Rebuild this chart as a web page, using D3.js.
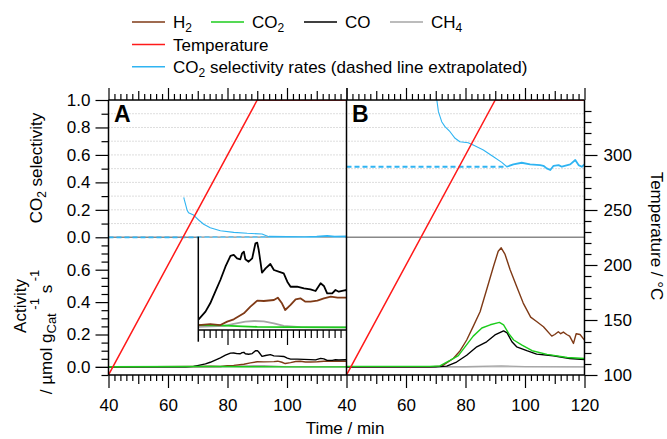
<!DOCTYPE html>
<html>
<head>
<meta charset="utf-8">
<script src="https://cdn.jsdelivr.net/npm/d3@7"></script>
<style>
  body { margin: 0; background: #fff; }
  text { font-family: "Liberation Sans", Arial, sans-serif; }
</style>
</head>
<body>
<div id="chart"></div>
<script>
// ---- data (time in min, activity in µmol g^-1 s^-1) ----
const timeTicks = [40, 60, 80, 100, 120]
const selTicks = [0, 0.2, 0.4, 0.6, 0.8, 1.0]
const actTicks = [0, 0.2, 0.4, 0.6]
const tempTicks = [100, 150, 200, 250, 300]

const tempRamp = [[40, 100], [90, 350], [120, 350]]

// panel A
const h2A = [[40,0],[70.3,0.0027],[74.2,0.0039],[77.6,0.0027],[79.9,0.0067],[82.1,0.0095],[85.5,0.0167],[87.7,0.0246],[90,0.0317],[92.2,0.0313],[95.6,0.0325],[96.9,0.0353],[98.3,0.0286],[99.4,0.0206],[101.2,0.0266],[102.9,0.0333],[104.5,0.0345],[106.2,0.0305],[107.9,0.0305],[110.2,0.0317],[112.4,0.0345],[114.7,0.0365],[117,0.0353],[119.7,0.0353],[120,0.0353]]
const co2A = [[40,0.001],[70.3,0.0027],[77.6,0.0022],[85,0.0012],[90,0.0005],[100,0.0002],[120,0.0]]
const coA = [[40,0],[66,0],[68.6,0.003],[70.3,0.0095],[72.6,0.0186],[74.2,0.0286],[75.9,0.0424],[77.6,0.0563],[79.3,0.0721],[81,0.0849],[82.1,0.0861],[83.2,0.0821],[84.3,0.081],[84.9,0.0881],[85.5,0.09],[86,0.081],[87.1,0.0781],[88.3,0.0821],[89.4,0.1],[90,0.1007],[90.5,0.092],[91.6,0.065],[92.8,0.0702],[94.4,0.0754],[95.6,0.0682],[97.2,0.0662],[98.9,0.0643],[100.1,0.0543],[101.2,0.0483],[103.4,0.0483],[105.7,0.0464],[107.9,0.0452],[109.6,0.0432],[111.3,0.0524],[112.4,0.0492],[113.5,0.0405],[115.2,0.0405],[116.3,0.0444],[117.4,0.0424],[119.7,0.0444],[120,0.044]]
const ch4A = [[40,0],[70.3,0.0005],[79,0.0016],[82.1,0.004],[86,0.0067],[89,0.0075],[92.2,0.007],[95.6,0.0048],[98.9,0.0016],[104.5,0.0003],[120,0.0]]
const selA = [[65.3,0.29],[65.5,0.272],[66.4,0.199],[66.9,0.179],[68.6,0.162],[70.3,0.126],[72,0.095],[74.2,0.07],[77.6,0.048],[82.1,0.036],[86.6,0.029],[91.6,0.024],[93.9,0.004]]
const selASteady = [[93.9,0.004],[100,0.003],[106,0.002],[110,0.004],[113.5,0.01],[116,0.004],[120,0.006]]
const selAExtra = [[40,0],[93.9,0]]

// panel B
const h2B = [[40,0],[68,0],[72,0.005],[75.9,0.052],[78.2,0.10],[80.4,0.166],[82.6,0.25],[84.9,0.34],[87.1,0.476],[89.4,0.62],[91,0.714],[92,0.735],[93.3,0.694],[95,0.60],[97.2,0.497],[99.4,0.394],[101.9,0.307],[103.9,0.28],[106.2,0.248],[109,0.19],[110,0.2],[111.2,0.217],[112,0.205],[112.9,0.215],[114,0.2],[115,0.19],[116.3,0.145],[117.2,0.205],[118.5,0.2],[120,0.165]]
const co2B = [[40,0.003],[68,0.003],[71.4,0.006],[74.8,0.04],[77.6,0.07],[79.9,0.125],[82.6,0.19],[85.5,0.24],[88.3,0.26],[91.4,0.275],[92.8,0.26],[94.5,0.207],[96.2,0.166],[99,0.135],[102.4,0.10],[107.4,0.077],[114.2,0.058],[120,0.052]]
const coB = [[40,0],[70,0],[73.7,0.005],[77,0.03],[80.4,0.072],[83.8,0.124],[87.1,0.155],[89.9,0.197],[92.8,0.222],[94,0.21],[95.6,0.155],[97.2,0.124],[100.6,0.10],[103.9,0.079],[109.5,0.069],[115,0.052],[120,0.046]]
const ch4B = [[40,0],[80,0.001],[92,0.006],[100,0.002],[120,0]]
const selB = [[70.1,1.05],[70.3,1.01],[70.9,0.915],[72,0.842],[73.1,0.806],[74.8,0.769],[76.5,0.721],[78.1,0.696],[80.9,0.689],[82.6,0.672],[86,0.636],[89.4,0.587],[92.2,0.546],[93.9,0.514]]
const selBSteady = [[93.9,0.514],[96.1,0.531],[98.9,0.543],[101.7,0.531],[105.1,0.526],[106.2,0.521],[107.3,0.502],[108.5,0.49],[109.6,0.521],[111.3,0.526],[112.4,0.514],[115.2,0.531],[116.9,0.563],[118,0.526],[119.1,0.514],[120,0.531]]
const selBExtra = [[40,0.514],[93.9,0.514]]

const colors = { h2: '#7f3a16', co2: '#1ccc1c', co: '#000', ch4: '#a6a6a6', temp: '#ff1a1a', sel: '#2fb4f2' }

// ---- layout ----
const W = 667, H = 439
const left = 108.5, mid = 346.5, right = 584.5
const plotTop = 100, selZero = 237.3, bottom = 375
const FONT = 17

const svg = d3.select('#chart').append('svg').attr('width', W).attr('height', H)

const xA = d3.scaleLinear().domain([40, 120]).range([left, mid])
const xB = d3.scaleLinear().domain([40, 120]).range([mid, right])
const ySel = d3.scaleLinear().domain([0, 1]).range([selZero, plotTop])
const yAct = d3.scaleLinear().domain([-0.05, 0.8]).range([bottom, selZero])
const yTemp = d3.scaleLinear().domain([100, 350]).range([bottom, plotTop])

const defs = svg.append('defs')
function clip(id, x, y, w, h) {
    defs.append('clipPath').attr('id', id).append('rect').attr('x', x).attr('y', y).attr('width', w).attr('height', h)
}
clip('clipA', left, plotTop, mid - left, bottom - plotTop)
clip('clipB', mid, plotTop, right - mid, bottom - plotTop)

function drawLine(g, data, x, y, color, width, dash) {
    g.append('path')
        .datum(data)
        .attr('d', d3.line().x(d => x(d[0])).y(d => y(d[1])))
        .attr('fill', 'none')
        .attr('stroke', color)
        .attr('stroke-width', width)
        .attr('stroke-linejoin', 'round')
        .attr('stroke-dasharray', dash || null)
}

// grid in the selectivity section
const grid = svg.append('g')
grid.selectAll('line')
    .data(d3.range(1, 10).map(d => d / 10))
    .enter().append('line')
    .attr('x1', left).attr('x2', right)
    .attr('y1', d => ySel(d)).attr('y2', d => ySel(d))
    .attr('stroke', '#bbb').attr('stroke-width', 1).attr('stroke-dasharray', '1,2')

svg.append('line').attr('x1', left - 13).attr('x2', right).attr('y1', yAct(0)).attr('y2', yAct(0))
    .attr('stroke', '#b5b5b5').attr('stroke-width', 1)
svg.append('line').attr('x1', left).attr('x2', right).attr('y1', selZero).attr('y2', selZero)
    .attr('stroke', '#888').attr('stroke-width', 1.5)

function panel(clipId, x, d) {
    const g = svg.append('g').attr('clip-path', `url(#${clipId})`)
    drawLine(g, d.ch4, x, yAct, colors.ch4, 1.3)
    drawLine(g, d.h2, x, yAct, colors.h2, 1.4)
    drawLine(g, d.co, x, yAct, colors.co, 1.4)
    drawLine(g, d.co2, x, yAct, colors.co2, 1.4)
    drawLine(g, d.selExtra, x, ySel, colors.sel, 1.8, '5,3')
    drawLine(g, d.sel, x, ySel, colors.sel, 1.1)
    drawLine(g, d.selSteady, x, ySel, colors.sel, 1.8)
    drawLine(g, tempRamp, x, yTemp, colors.temp, 1.5)
    return g
}
panel('clipA', xA, { h2: h2A, co2: co2A, co: coA, ch4: ch4A, sel: selA, selSteady: selASteady, selExtra: selAExtra })
panel('clipB', xB, { h2: h2B, co2: co2B, co: coB, ch4: ch4B, sel: selB, selSteady: selBSteady, selExtra: selBExtra })

// ---- inset in panel A ----
const inL = 198.3, inTop = 236.7, inBot = 330
const yIn = d3.scaleLinear().domain([0, 0.1]).range([327.3, 243.3])
clip('clipIn', inL, inTop, mid - inL, inBot - inTop)
const inset = svg.append('g')
inset.append('rect').attr('x', inL).attr('y', inTop + 1).attr('width', mid - inL - 1).attr('height', inBot - inTop - 1).attr('fill', '#fff')
const inG = inset.append('g').attr('clip-path', 'url(#clipIn)')
drawLine(inG, ch4A, xA, yIn, colors.ch4, 1.8)
drawLine(inG, co2A, xA, yIn, colors.co2, 1.8)
drawLine(inG, h2A, xA, yIn, colors.h2, 1.8)
drawLine(inG, coA, xA, yIn, colors.co, 1.8)
inset.append('line').attr('x1', inL).attr('x2', inL).attr('y1', inTop).attr('y2', 341.7).attr('stroke', '#000').attr('stroke-width', 1.5)
inset.append('line').attr('x1', inL).attr('x2', mid).attr('y1', inBot).attr('y2', inBot).attr('stroke', '#000').attr('stroke-width', 1.5)

// ---- axes ----
function axis(gen, tr, vals, size, fmt, pad) {
    const g = svg.append('g').attr('transform', tr)
        .call(gen.tickValues(vals).tickSize(size).tickSizeOuter(0).tickPadding(pad || 3).tickFormat(fmt || ''))
    g.select('.domain').remove()
    g.selectAll('line').attr('stroke', '#000').attr('stroke-width', 1.2)
    g.attr('font-size', FONT).attr('font-family', '"Liberation Sans", Arial, sans-serif')
    g.selectAll('text').attr('fill', '#000')
    return g
}
const minorT = d3.range(42, 120, 2).filter(t => t % 10 !== 0)
const tenT = [50, 70, 90, 110]

axis(d3.axisBottom(xA), `translate(0,${bottom})`, [40, 60, 80, 100], 13, d3.format('d'), 11)
axis(d3.axisBottom(xB), `translate(0,${bottom})`, timeTicks, 13, d3.format('d'), 11)
;[xA, xB].forEach(x => {
    axis(d3.axisBottom(x), `translate(0,${bottom})`, tenT, 9)
    axis(d3.axisBottom(x), `translate(0,${bottom})`, minorT, 6)
    axis(d3.axisTop(x), `translate(0,${plotTop})`, timeTicks, 12)
    axis(d3.axisTop(x), `translate(0,${plotTop})`, tenT, 9)
    axis(d3.axisTop(x), `translate(0,${plotTop})`, minorT, 6)
})
axis(d3.axisBottom(xA), `translate(0,${inBot})`, [80, 100], 15)
axis(d3.axisBottom(xA), `translate(0,${inBot})`, d3.range(72, 120, 2).filter(t => t % 20 !== 0), 8)

axis(d3.axisLeft(ySel), `translate(${left},0)`, selTicks, 13, d3.format('.1f'), 5)
axis(d3.axisLeft(ySel), `translate(${left},0)`, [0.1, 0.3, 0.5, 0.7, 0.9], 7)
axis(d3.axisLeft(yAct), `translate(${left},0)`, actTicks, 13, d3.format('.1f'), 5)
axis(d3.axisLeft(yAct), `translate(${left},0)`, [-0.05, 0.05, 0.1, 0.15, 0.25, 0.3, 0.35, 0.45, 0.5, 0.55, 0.65, 0.7, 0.75], 7)
axis(d3.axisRight(yTemp), `translate(${right},0)`, tempTicks, 13, d3.format('d'), 6)
axis(d3.axisRight(yTemp), `translate(${right},0)`, d3.range(110, 360, 10).filter(t => t % 50 !== 0), 7)

// frame lines
const frame = [[left, plotTop, right, plotTop], [left, bottom, right, bottom],
    [left, plotTop, left, bottom], [mid, plotTop, mid, bottom], [right, plotTop, right, bottom]]
svg.append('g').selectAll('line').data(frame).enter().append('line')
    .attr('x1', d => d[0]).attr('y1', d => d[1]).attr('x2', d => d[2]).attr('y2', d => d[3])
    .attr('stroke', '#000').attr('stroke-width', 1.5)

// panel letters
svg.append('text').text('A').attr('x', 114).attr('y', 121.7).attr('font-size', 23).attr('font-weight', 'bold')
svg.append('text').text('B').attr('x', 352).attr('y', 121.7).attr('font-size', 23).attr('font-weight', 'bold')

// ---- axis titles ----
function sub(t, s, dy, size) {
    t.append('tspan').text(s).attr('font-size', size || 12).attr('dy', dy)
}
svg.append('text').text('Time / min').attr('x', 345).attr('y', 434).attr('text-anchor', 'middle').attr('font-size', FONT)

const selTitle = svg.append('text').attr('transform', 'translate(42,168) rotate(-90)').attr('text-anchor', 'middle').attr('font-size', FONT)
selTitle.append('tspan').text('CO')
sub(selTitle, '2', 4)
selTitle.append('tspan').text(' selectivity').attr('dy', -4)

svg.append('text').text('Activity').attr('transform', 'translate(26,306) rotate(-90)').attr('text-anchor', 'middle').attr('font-size', FONT)
const actTitle = svg.append('text').attr('transform', 'translate(51.7,332) rotate(-90)').attr('text-anchor', 'middle').attr('font-size', FONT)
actTitle.append('tspan').text('/ µmol g')
sub(actTitle, 'Cat', 4, 13)
sub(actTitle, ' -1', -17, 13)
actTitle.append('tspan').text('  s').attr('dy', 13)
sub(actTitle, ' -1', -13, 13)

svg.append('text').text('Temperature / °C').attr('transform', 'translate(651,236) rotate(90)').attr('text-anchor', 'middle').attr('font-size', FONT)

// ---- legend ----
const legendItems = [
    { c: colors.h2, x: 132, y: 22, label: ['H', '2'] },
    { c: colors.co2, x: 211, y: 22, label: ['CO', '2'] },
    { c: colors.co, x: 304, y: 22, label: ['CO'] },
    { c: colors.ch4, x: 390, y: 22, label: ['CH', '4'] },
    { c: colors.temp, x: 132, y: 44.5, label: ['Temperature'] },
    { c: colors.sel, x: 132, y: 66.7, label: ['CO', '2', ' selectivity rates (dashed line extrapolated)'] }
]
const legend = svg.append('g')
legendItems.forEach(d => {
    legend.append('line').attr('x1', d.x).attr('x2', d.x + 33).attr('y1', d.y).attr('y2', d.y)
        .attr('stroke', d.c).attr('stroke-width', 1.6)
    const t = legend.append('text').attr('x', d.x + 41).attr('y', d.y + 6).attr('font-size', FONT)
    t.append('tspan').text(d.label[0])
    if (d.label[1]) sub(t, d.label[1], 4)
    if (d.label[2]) t.append('tspan').text(d.label[2]).attr('dy', -4)
})
</script>
</body>
</html>
